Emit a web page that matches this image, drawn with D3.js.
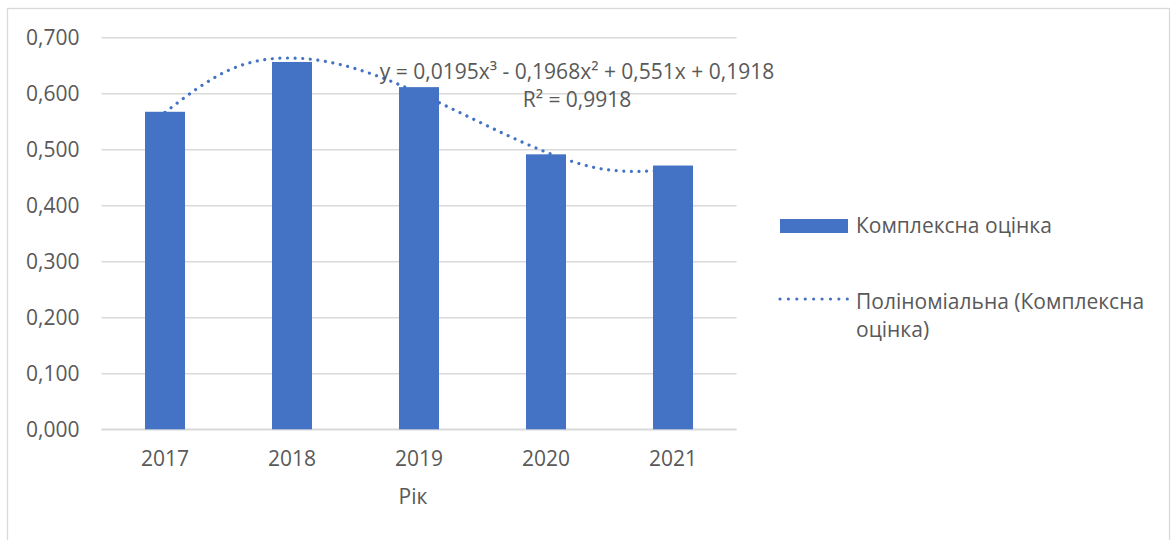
<!DOCTYPE html>
<html><head><meta charset="utf-8">
<script src="https://cdn.jsdelivr.net/npm/d3@7"></script>
<style>
html,body{margin:0;padding:0;background:#fff;}
svg text{font-family:"Open Sans","Noto Sans",sans-serif;fill:#595959;}
</style></head>
<body><svg id="c" width="1173" height="540"></svg>
<script>
const years = ["2017","2018","2019","2020","2021"];
const values = [0.567, 0.656, 0.611, 0.491, 0.471];
const yTicks = [0, 0.1, 0.2, 0.3, 0.4, 0.5, 0.6, 0.7];
// dotted trend curve at half-year steps (index 0 = 2017)
const trendIdx = [0, 0.5, 1, 1.5, 2, 2.5, 3, 3.5, 4];
const trendVal = [0.566, 0.641, 0.663, 0.644, 0.600, 0.546, 0.495, 0.463, 0.464];
const seriesName = "Комплексна оцінка";
const trendName = ["Поліноміальна (Комплексна", "оцінка)"];
const eqLines = ["y = 0,0195x³ - 0,1968x² + 0,551x + 0,1918", "R² = 0,9918"];
const xTitle = "Рік";

const svg = d3.select("#c");
const W = 1173, H = 540;
const plot = {l: 101.5, r: 736.5, t: 37.3, b: 429.3};
const blue = "#4472C4", grid = "#d9d9d9";
const fs = 21;

svg.append("rect").attr("x",0).attr("y",0).attr("width",W).attr("height",H).attr("fill","#fff");
svg.append("rect").attr("x",7.5).attr("y",8.5).attr("width",1162).attr("height",600)
  .attr("fill","none").attr("stroke",grid).attr("stroke-width",1.3);

const x = d3.scaleBand().domain(years).range([plot.l, plot.r]).paddingInner(0.685).paddingOuter(0.3425);
const y = d3.scaleLinear().domain([0, 0.7]).range([plot.b, plot.t]);
const xi = d3.scaleLinear().domain([0, years.length-1])
  .range([x(years[0]) + x.bandwidth()/2, x(years[years.length-1]) + x.bandwidth()/2]);
const fmt = v => d3.format(".3f")(v).replace(".", ",");

// gridlines + y labels
const yAxis = d3.axisLeft(y).tickValues(yTicks).tickSize(-(plot.r-plot.l)).tickFormat(fmt).tickPadding(22);
const gy = svg.append("g").attr("transform",`translate(${plot.l},0)`).call(yAxis);
gy.select(".domain").remove();
gy.selectAll(".tick line").attr("stroke",grid).attr("stroke-width",1.5);
gy.selectAll(".tick text").attr("font-size",fs).attr("fill","#595959").attr("dy","0.35em");

// x axis
const xAxis = d3.axisBottom(x).tickSize(0).tickPadding(22);
const gx = svg.append("g").attr("transform",`translate(0,${plot.b})`).call(xAxis);
gx.select(".domain").attr("stroke",grid).attr("stroke-width",1.5)
  .attr("d",`M${plot.l},0H${plot.r}`);
gx.selectAll(".tick text").attr("font-size",fs).attr("fill","#595959").attr("dy","0.71em");

// bars
svg.append("g").selectAll("rect").data(values).join("rect")
  .attr("x",(d,i)=>x(years[i])).attr("width",x.bandwidth())
  .attr("y",d=>y(d)).attr("height",d=>y(0)-y(d)).attr("fill",blue);

// trend
const line = d3.line().x((d,i)=>xi(trendIdx[i])).y(d=>y(d)).curve(d3.curveNatural);
svg.append("path").attr("d",line(trendVal)).attr("fill","none").attr("stroke",blue)
  .attr("stroke-width",3.2).attr("stroke-linecap","round").attr("stroke-dasharray","0.01 7.6");

// equation
svg.append("text").attr("x",577).attr("y",72).attr("text-anchor","middle").attr("dy","0.35em")
  .attr("font-size",fs).text(eqLines[0]);
svg.append("text").attr("x",577).attr("y",100).attr("text-anchor","middle").attr("dy","0.35em")
  .attr("font-size",fs).text(eqLines[1]);

// x title
svg.append("text").attr("x",(plot.l+plot.r)/2 - 6).attr("y",497).attr("text-anchor","middle").attr("dy","0.35em")
  .attr("font-size",fs).text(xTitle);

// legend
const lg = svg.append("g");
lg.append("rect").attr("x",780).attr("y",219).attr("width",68).attr("height",14).attr("fill",blue);
lg.append("text").attr("x",856).attr("y",226).attr("dy","0.35em").attr("font-size",fs).text(seriesName);
lg.append("line").attr("x1",780).attr("x2",848).attr("y1",299).attr("y2",299)
  .attr("stroke",blue).attr("stroke-width",3.2).attr("stroke-linecap","round").attr("stroke-dasharray","0.01 8.4");
lg.append("text").attr("x",856).attr("y",302).attr("dy","0.35em").attr("font-size",fs).text(trendName[0]);
lg.append("text").attr("x",856).attr("y",330).attr("dy","0.35em").attr("font-size",fs).text(trendName[1]);
</script></body></html>
